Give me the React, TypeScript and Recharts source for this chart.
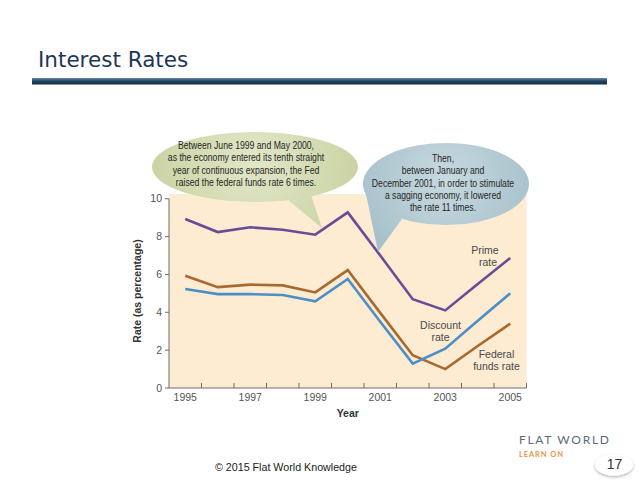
import {
  LineChart,
  Line,
  XAxis,
  YAxis,
  ReferenceArea,
  ReferenceLine,
} from "recharts";

const years = [1995, 1996, 1997, 1998, 1999, 2000, 2001, 2002, 2003, 2004, 2005];
const primeRate = [8.93, 8.24, 8.49, 8.36, 8.1, 9.28, 7.0, 4.69, 4.1, 5.5, 6.87];
const discountRate = [5.23, 4.96, 4.96, 4.91, 4.58, 5.76, 3.5, 1.29, 2.08, 3.55, 5.0];
const fedFundsRate = [5.93, 5.33, 5.46, 5.42, 5.05, 6.23, 3.97, 1.73, 1.0, 2.22, 3.4];

// tick marks sit between years, labels on odd years
const yearLabels = [1995, 1997, 1999, 2001, 2003, 2005];
const yearBounds = [1995.5, 1996.5, 1997.5, 1998.5, 1999.5, 2000.5, 2001.5, 2002.5, 2003.5, 2004.5, 2005.5];
const rateTicks = [0, 2, 4, 6, 8, 10];

const greenNote = [
  "Between June 1999 and May 2000,",
  "as the economy entered its tenth straight",
  "year of continuous expansion, the Fed",
  "raised the federal funds rate 6 times.",
];
const blueNote = [
  "Then,",
  "between January and",
  "December 2001, in order to stimulate",
  "a sagging economy, it lowered",
  "the rate 11 times.",
];

const data = years.map((year, i) => ({
  year,
  prime: primeRate[i],
  discount: discountRate[i],
  fed: fedFundsRate[i],
}));

const xTicks = [...yearLabels, ...yearBounds].sort((a, b) => a - b);

const AXIS = "#6e6e6e";
const SANS = "'Liberation Sans', Arial, sans-serif";

function YearTick(props: any) {
  const { x, y, payload } = props;
  const v = payload.value;
  if (Number.isInteger(v)) {
    return (
      <text x={x} y={y + 13} textAnchor="middle" fill="#555" fontSize={10.5} fontFamily={SANS}>
        {v}
      </text>
    );
  }
  return <line x1={x} x2={x} y1={y} y2={y - 5} stroke={AXIS} strokeWidth={1} />;
}

// bubble copy is set in a condensed face, so squeeze it around its centre
const squeeze = (cx: number) => `translate(${cx} 0) scale(0.825 1) translate(${-cx} 0)`;

function Overlay() {
  return (
    <svg
      width={640}
      height={480}
      style={{ position: "absolute", left: 0, top: 0, pointerEvents: "none" }}
    >
      <defs>
        <linearGradient id="bar" x1="0" y1="0" x2="0" y2="1">
          <stop offset="0%" stopColor="#6c89a6" />
          <stop offset="45%" stopColor="#234766" />
          <stop offset="100%" stopColor="#112c47" />
        </linearGradient>
        <radialGradient id="greenFill" gradientUnits="userSpaceOnUse" cx={255} cy={162} r={110}>
          <stop offset="0%" stopColor="#e2e7c8" />
          <stop offset="100%" stopColor="#c9d2a2" />
        </radialGradient>
        <radialGradient id="blueFill" gradientUnits="userSpaceOnUse" cx={446} cy={180} r={90}>
          <stop offset="0%" stopColor="#c8d9df" />
          <stop offset="100%" stopColor="#a7c1cb" />
        </radialGradient>
        <filter id="pillShadow" x="-30%" y="-30%" width="160%" height="180%">
          <feDropShadow dx="0" dy="1.5" stdDeviation="1.5" floodColor="#000" floodOpacity="0.3" />
        </filter>
      </defs>

      <text x={38} y={66.5} fontFamily="'DejaVu Sans', Verdana, sans-serif" fontSize={21.5} fill="#1d3656">
        Interest Rates
      </text>
      <rect x={32} y={78} width={575} height={6.5} fill="url(#bar)" />

      {/* speech bubbles */}
      <ellipse cx={255} cy={167} rx={103} ry={35} fill="url(#greenFill)" />
      <polygon points="283,196 322,228 311,195" fill="url(#greenFill)" />
      <g fontFamily={SANS} fontSize={10.5} fill="#262626" textAnchor="middle" transform={squeeze(246)}>
        {greenNote.map((t, i) => (
          <text key={t} x={246} y={149 + i * 12.4}>
            {t}
          </text>
        ))}
      </g>

      <ellipse cx={446} cy={184} rx={83} ry={41} fill="url(#blueFill)" />
      <polygon points="366,194 378,252 402,219" fill="url(#blueFill)" />
      <g fontFamily={SANS} fontSize={10.5} fill="#262626" textAnchor="middle" transform={squeeze(443)}>
        {blueNote.map((t, i) => (
          <text key={t} x={443} y={162.2 + i * 12.2}>
            {t}
          </text>
        ))}
      </g>

      {/* series labels */}
      <g fontFamily={SANS} fontSize={10.5} fill="#4a4a4a" textAnchor="middle">
        <text x={485} y={254}>Prime</text>
        <text x={488} y={266}>rate</text>
        <text x={440.5} y={329}>Discount</text>
        <text x={440.5} y={340.5}>rate</text>
        <text x={496.5} y={358}>Federal</text>
        <text x={496.5} y={369.5}>funds rate</text>
      </g>

      {/* footer */}
      <text x={215} y={471} fontFamily={SANS} fontSize={10.7} fill="#222">
        © 2015 Flat World Knowledge
      </text>
      <text x={519} y={443.5} fontFamily="Lato, 'Open Sans', sans-serif" fontSize={12} letterSpacing={1.7} fill="#5b6b7c">
        FLAT WORLD
      </text>
      <text x={519} y={456.5} fontFamily="Lato, 'Open Sans', sans-serif" fontSize={7.5} fontWeight="bold" letterSpacing={0.9} fill="#e8964c">
        LEARN ON
      </text>
      <ellipse cx={614} cy={465} rx={19} ry={10.5} fill="#fff" filter="url(#pillShadow)" />
      <text x={614.5} y={468.5} textAnchor="middle" fontFamily={SANS} fontSize={14} fill="#333">
        17
      </text>
    </svg>
  );
}

export default function App() {
  return (
    <div
      style={{
        position: "absolute",
        left: 0,
        top: 0,
        width: 640,
        height: 480,
        background: "#fff",
        overflow: "hidden",
      }}
    >
      <div style={{ position: "absolute", left: 0, top: 0 }}>
        <LineChart
          width={640}
          height={480}
          data={data}
          margin={{ top: 194, right: 113.5, bottom: 52, left: 129 }}
        >
          <ReferenceArea
            x1={1994.5}
            x2={2005.5}
            y1={0}
            y2={10.25}
            fill="#fdebd2"
            fillOpacity={1}
            stroke="none"
          />
          <XAxis
            dataKey="year"
            type="number"
            domain={[1994.5, 2005.5]}
            ticks={xTicks}
            interval={0}
            tickSize={0}
            tickMargin={0}
            tickLine={false}
            tick={<YearTick />}
            axisLine={{ stroke: AXIS, strokeWidth: 1 }}
            height={40}
            label={{
              value: "Year",
              position: "insideBottom",
              offset: 11.5,
              fill: "#333",
              fontSize: 10.5,
              fontWeight: "bold",
              fontFamily: SANS,
            }}
          />
          <YAxis
            type="number"
            domain={[0, 10.25]}
            ticks={rateTicks}
            interval={0}
            width={40}
            axisLine={false}
            tickLine={{ stroke: AXIS }}
            tickSize={4}
            tickMargin={3}
            tick={{ fill: "#555", fontSize: 10.5, fontFamily: SANS }}
            label={{
              value: "Rate (as percentage)",
              angle: -90,
              position: "insideLeft",
              offset: 8,
              fill: "#333",
              fontSize: 10.5,
              fontWeight: "bold",
              fontFamily: SANS,
              style: { textAnchor: "middle" },
            }}
          />
          <ReferenceLine
            segment={[
              { x: 1994.5, y: 0 },
              { x: 1994.5, y: 10 },
            ]}
            stroke={AXIS}
            strokeWidth={1}
          />
          <Line
            type="linear"
            dataKey="prime"
            stroke="#6a4c96"
            strokeWidth={2.6}
            dot={false}
            isAnimationActive={false}
          />
          <Line
            type="linear"
            dataKey="fed"
            stroke="#a8692f"
            strokeWidth={2.6}
            dot={false}
            isAnimationActive={false}
          />
          <Line
            type="linear"
            dataKey="discount"
            stroke="#4b8fc6"
            strokeWidth={2.6}
            dot={false}
            isAnimationActive={false}
          />
        </LineChart>
      </div>
      <Overlay />
    </div>
  );
}
